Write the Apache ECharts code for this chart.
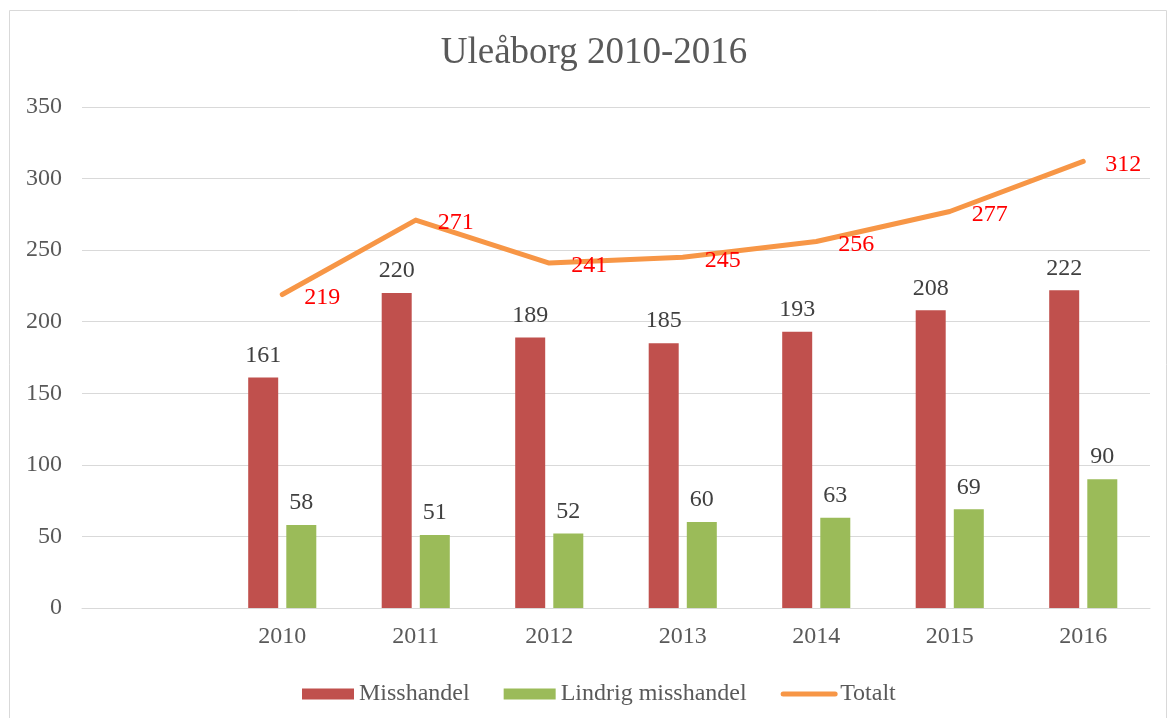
<!DOCTYPE html>
<html>
<head>
<meta charset="utf-8">
<script src="https://cdn.jsdelivr.net/npm/echarts@6/dist/echarts.min.js"></script>
<style>
  html, body { margin: 0; padding: 0; background: #fff; }
  #chart { width: 1170px; height: 718px; }
</style>
</head>
<body>
<div id="chart"></div>
<script>
// first category is empty in the original chart
const years = ['', '2010', '2011', '2012', '2013', '2014', '2015', '2016']
const misshandel = [null, 161, 220, 189, 185, 193, 208, 222]
const lindrig = [null, 58, 51, 52, 60, 63, 69, 90]
const totalt = [null, 219, 271, 241, 245, 256, 277, 312]

const font = '"Liberation Serif", "Times New Roman", serif'

const chart = echarts.init(document.getElementById('chart'))
const option = {
  animation: false,
  textStyle: {
    fontFamily: font,
  },
  graphic: [{
    type: 'rect',
    shape: { x: 9.5, y: 10.5, width: 1157, height: 720 },
    style: { fill: 'none', stroke: '#d9d9d9', lineWidth: 1 },
  }],
  title: {
    text: 'Uleåborg 2010-2016',
    left: 589,
    top: 30,
    textAlign: 'center',
    textStyle: {
      color: '#595959',
      fontFamily: font,
      fontSize: 37,
      fontWeight: 'normal',
    },
  },
  legend: {
    left: 297,
    top: 677,
    itemWidth: 52,
    itemHeight: 11,
    itemGap: 34,
    textStyle: {
      color: '#595959',
      fontFamily: font,
      fontSize: 24,
    },
    data: [
      { name: 'Misshandel', icon: 'rect' },
      { name: 'Lindrig misshandel', icon: 'rect' },
      { name: 'Totalt', lineStyle: { width: 5, cap: 'round' }, itemStyle: { opacity: 0 } },
    ],
  },
  grid: {
    left: 82,
    right: 20,
    top: 107,
    bottom: 110,
  },
  xAxis: {
    type: 'category',
    data: years,
    axisLine: { lineStyle: { color: '#d9d9d9' } },
    axisTick: { show: false },
    axisLabel: {
      color: '#595959',
      fontFamily: font,
      fontSize: 24,
      margin: 17,
    },
  },
  yAxis: {
    type: 'value',
    min: 0,
    max: 350,
    interval: 50,
    axisLine: { show: false },
    axisTick: { show: false },
    splitLine: { lineStyle: { color: '#d9d9d9' } },
    axisLabel: {
      color: '#595959',
      fontFamily: font,
      fontSize: 24,
      margin: 20,
    },
  },
  series: [{
    name: 'Misshandel',
    type: 'bar',
    barWidth: 30,
    barGap: '27%',
    itemStyle: { color: '#c0504d' },
    label: {
      show: true,
      position: 'top',
      distance: 10,
      color: '#404040',
      fontFamily: font,
      fontSize: 24,
    },
    data: misshandel,
  }, {
    name: 'Lindrig misshandel',
    type: 'bar',
    barWidth: 30,
    itemStyle: { color: '#9bbb59' },
    label: {
      show: true,
      position: 'top',
      distance: 10,
      color: '#404040',
      fontFamily: font,
      fontSize: 24,
    },
    data: lindrig,
  }, {
    name: 'Totalt',
    type: 'line',
    symbol: 'circle',
    symbolSize: 0,
    showSymbol: true,
    z: 3,
    itemStyle: { color: '#f79646' },
    lineStyle: { color: '#f79646', width: 5, cap: 'round', join: 'round' },
    label: {
      show: true,
      position: 'right',
      distance: 22,
      offset: [0, 3],
      color: '#ff0000',
      fontFamily: font,
      fontSize: 24,
    },
    data: totalt,
  }],
}
chart.setOption(option)
</script>
</body>
</html>
